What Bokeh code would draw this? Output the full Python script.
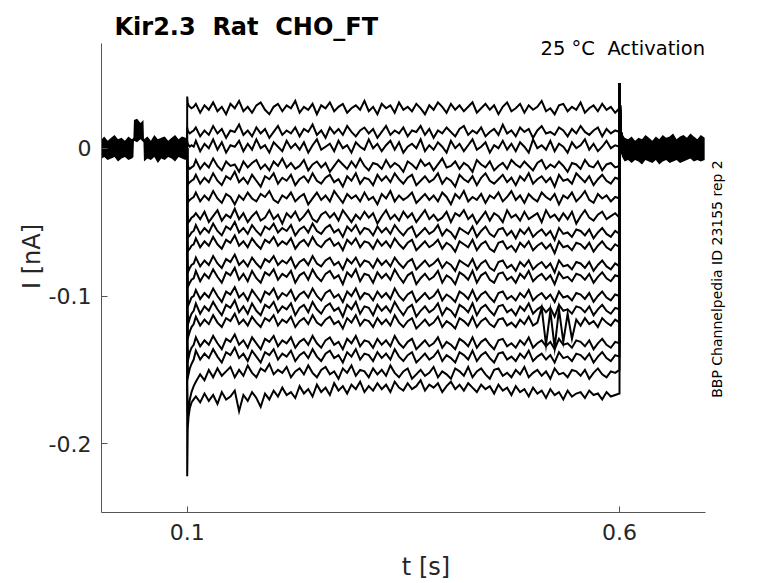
import numpy as np
from bokeh.plotting import figure
from bokeh.models import Label, FixedTicker
from bokeh.embed import file_html
from bokeh.resources import INLINE

# ---------------- data (currents in pA, time in s) ----------------
onset_t = [0.1000, 0.1006, 0.1015, 0.1030, 0.1050, 0.1075]
main_start, main_end = 0.110, 0.600
spike_t = [0.6002, 0.6010, 0.6025, 0.6050]
spike_pA = [44, 16, 6, 0]

pre_t = [0.0012, 0.004, 0.008, 0.012, 0.016, 0.020, 0.024, 0.028, 0.032, 0.036,
         0.0378, 0.0384, 0.042, 0.046, 0.0494, 0.0500, 0.054, 0.058, 0.062, 0.066,
         0.070, 0.074, 0.078, 0.082, 0.086, 0.090, 0.094, 0.098, 0.1000]
pre_hi = [6, 8, 5, 7, 9, 6, 7, 5, 8, 6, 7, 19, 20, 17, 19, 6, 8, 5, 9, 6, 7, 8, 5, 7, 9, 6, 8, 7, 6]
pre_lo = [-7, -6, -8, -7, -6, -9, -7, -6, -8, -7, -6, 5, 4, 6, 4, -9, -7, -8, -6, -10, -7, -8, -6, -7, -9, -6, -7, -8, -6]

post_t = [0.6000, 0.6010, 0.6030, 0.6060, 0.610, 0.614, 0.618, 0.622, 0.626, 0.630,
          0.634, 0.638, 0.642, 0.646, 0.650, 0.654, 0.658, 0.662, 0.666, 0.670,
          0.674, 0.678, 0.682, 0.686, 0.690, 0.694, 0.6985]
post_hi = [20, 16, 10, 7, 6, 8, 5, 7, 6, 9, 7, 5, 8, 6, 9, 7, 8, 10, 6, 8, 9, 7, 10, 8, 6, 9, 7]
post_lo = [4, -2, -6, -9, -8, -10, -8, -9, -11, -8, -9, -10, -8, -11, -9, -8, -10, -9, -8, -10, -9, -8, -7, -9, -8, -9, -8]

onsets = [
    [35, 31, 29, 28, 27, 28],
    [14, 12, 11, 10, 11, 12],
    [5, 3, 2, 1, 2, 1],
    [-8, -11, -13, -14, -13, -12],
    [-18, -22, -24, -23, -22, -21],
    [-30, -34, -36, -35, -34, -33],
    [-44, -48, -50, -49, -47, -46],
    [-53, -57, -60, -59, -57, -56],
    [-62, -67, -69, -68, -66, -65],
    [-74, -80, -83, -81, -79, -78],
    [-84, -90, -93, -91, -89, -88],
    [-95, -103, -106, -104, -101, -100],
    [-104, -114, -118, -115, -112, -110],
    [-110, -122, -127, -124, -121, -119],
    [-124, -137, -142, -138, -135, -133],
    [-132, -148, -153, -149, -146, -143],
    [-160, -180, -176, -170, -165, -161],
    [-222, -190, -182, -176, -172, -170],
]

trace01 = [30,24,29,26,31,25,28,23,30,27,32,25,28,24,29,31,26,23,28,30,25,29,27,32,24,28,26,30,23,29,27,31,25,28,30,24,27,29,26,32,25,28,23,30,27,29,24,31,26,28,25,30,27,23,29,26,31,28,24,30,26,29,25,28,31,24,27,30,26,29,23,28,31,25,27,30,24,29,26,28,32,25,27,23,29,30,25,28,26,31,24,27,29,25,30,26,28,24,27]
trace02 = [14,8,12,9,15,10,13,7,12,11,16,9,12,8,14,10,13,7,11,15,9,12,10,14,8,13,11,16,9,12,7,14,10,13,9,15,11,8,12,14,10,13,7,11,15,9,12,10,14,8,12,11,15,9,13,7,12,10,14,11,8,13,15,9,12,10,14,8,11,13,9,16,10,12,8,14,11,13,7,12,15,10,11,9,14,12,8,13,10,15,11,9,12,14,8,13,10,12,11]
trace03 = [5,-2,3,0,6,-1,4,-3,2,1,5,-2,3,-1,6,0,2,-3,4,1,-2,5,0,3,-1,4,-3,2,6,-1,1,3,-2,5,0,2,-3,4,1,-1,6,0,3,-2,2,5,-1,4,-3,1,3,0,6,-2,2,-1,4,1,-3,5,0,3,-2,2,6,-1,1,4,-3,2,0,5,-1,3,-2,4,1,-3,6,0,2,-1,5,-2,3,1,-3,4,0,2,6,-1,3,-2,1,5,0,2,1]
trace04 = [-8,-14,-10,-13,-7,-12,-15,-9,-12,-11,-16,-9,-13,-10,-8,-14,-11,-15,-9,-12,-7,-13,-10,-14,-12,-8,-15,-11,-9,-13,-10,-16,-12,-8,-11,-14,-9,-13,-7,-12,-15,-10,-11,-14,-8,-13,-10,-12,-16,-9,-11,-14,-8,-12,-10,-15,-11,-7,-13,-12,-9,-14,-10,-12,-16,-8,-11,-13,-9,-15,-12,-10,-14,-8,-11,-13,-9,-12,-15,-10,-8,-14,-11,-13,-9,-12,-16,-10,-11,-14,-8,-12,-13,-9,-15,-11,-10,-13,-12]
trace05 = [-18,-24,-20,-23,-17,-22,-25,-19,-21,-16,-23,-20,-24,-18,-22,-26,-19,-21,-17,-24,-20,-22,-18,-25,-21,-19,-23,-17,-22,-24,-20,-18,-23,-21,-26,-19,-22,-17,-24,-20,-21,-25,-18,-22,-19,-23,-17,-21,-24,-20,-18,-25,-22,-19,-23,-21,-17,-24,-20,-22,-26,-18,-21,-23,-19,-25,-20,-17,-22,-24,-21,-18,-23,-20,-25,-19,-22,-17,-24,-21,-19,-23,-20,-26,-18,-22,-21,-24,-17,-20,-23,-19,-25,-21,-18,-22,-24,-20,-21]
trace06 = [-30,-36,-32,-35,-29,-34,-37,-31,-33,-38,-32,-35,-30,-34,-36,-31,-33,-29,-35,-37,-32,-34,-30,-36,-33,-31,-38,-34,-30,-35,-32,-36,-29,-33,-37,-31,-34,-32,-36,-30,-35,-33,-38,-31,-34,-29,-36,-32,-35,-33,-30,-37,-34,-31,-35,-32,-36,-30,-33,-38,-31,-34,-29,-36,-33,-35,-31,-37,-32,-34,-30,-36,-33,-29,-35,-32,-37,-31,-34,-36,-30,-33,-35,-31,-38,-32,-34,-30,-36,-33,-29,-35,-37,-31,-34,-32,-36,-33,-34]
trace07 = [-44,-48,-43,-50,-46,-42,-49,-45,-47,-41,-48,-44,-50,-46,-43,-49,-47,-42,-48,-45,-51,-44,-47,-43,-49,-46,-42,-48,-50,-45,-43,-47,-44,-49,-42,-46,-50,-45,-48,-43,-47,-44,-51,-46,-42,-48,-45,-49,-43,-47,-44,-50,-46,-42,-48,-45,-49,-47,-43,-50,-44,-46,-42,-48,-45,-51,-47,-43,-49,-44,-46,-50,-42,-47,-45,-49,-43,-48,-46,-44,-50,-42,-47,-45,-49,-44,-48,-43,-51,-46,-42,-47,-49,-45,-43,-48,-46,-44,-47]
trace08 = [-52,-58,-54,-57,-51,-56,-59,-53,-55,-50,-57,-54,-58,-52,-56,-59,-53,-55,-51,-57,-54,-56,-52,-59,-55,-53,-57,-51,-56,-58,-54,-52,-57,-55,-60,-53,-56,-52,-58,-54,-55,-59,-53,-57,-54,-58,-52,-56,-59,-55,-53,-60,-57,-54,-58,-56,-52,-59,-55,-57,-61,-54,-56,-58,-53,-60,-56,-53,-58,-60,-55,-54,-59,-56,-61,-55,-58,-54,-60,-57,-55,-59,-56,-62,-54,-58,-57,-60,-55,-56,-59,-55,-61,-57,-54,-58,-60,-56,-58]
trace09 = [-61,-67,-63,-66,-60,-65,-68,-62,-64,-59,-66,-63,-67,-61,-65,-68,-62,-64,-60,-66,-63,-65,-61,-68,-64,-62,-66,-60,-65,-67,-63,-61,-66,-64,-69,-62,-65,-61,-67,-63,-64,-68,-62,-66,-63,-67,-61,-65,-68,-64,-62,-69,-66,-63,-67,-65,-62,-68,-64,-66,-70,-63,-65,-67,-62,-69,-65,-63,-68,-70,-64,-63,-68,-66,-70,-64,-67,-63,-69,-66,-64,-68,-65,-71,-63,-67,-66,-69,-64,-65,-68,-64,-70,-66,-63,-67,-69,-65,-67]
trace10 = [-74,-80,-76,-79,-73,-78,-81,-75,-77,-72,-79,-76,-80,-74,-78,-81,-75,-77,-73,-79,-76,-78,-74,-81,-77,-75,-79,-73,-78,-80,-76,-74,-79,-77,-82,-75,-78,-74,-80,-76,-77,-81,-75,-79,-76,-80,-74,-78,-81,-77,-75,-82,-79,-76,-80,-78,-75,-81,-77,-79,-83,-76,-78,-80,-75,-82,-78,-76,-81,-83,-77,-76,-81,-79,-83,-77,-80,-76,-82,-79,-77,-81,-78,-84,-76,-80,-79,-82,-77,-78,-81,-77,-83,-79,-76,-80,-82,-78,-80]
trace11 = [-83,-90,-85,-88,-82,-87,-91,-84,-86,-81,-89,-85,-90,-83,-88,-91,-84,-86,-82,-89,-85,-87,-83,-91,-86,-84,-89,-82,-87,-90,-85,-83,-88,-86,-92,-84,-87,-82,-90,-85,-86,-91,-84,-88,-85,-89,-82,-87,-91,-86,-84,-92,-88,-85,-89,-87,-83,-91,-86,-88,-92,-84,-86,-89,-83,-91,-86,-84,-89,-91,-85,-84,-89,-87,-91,-85,-88,-83,-90,-87,-85,-89,-86,-92,-84,-88,-87,-90,-85,-86,-89,-85,-91,-87,-84,-88,-90,-86,-87]
trace12 = [-96,-102,-98,-101,-95,-100,-104,-97,-99,-94,-101,-98,-103,-96,-100,-104,-97,-99,-95,-102,-98,-100,-96,-103,-99,-97,-101,-95,-100,-103,-98,-96,-101,-99,-104,-97,-100,-95,-102,-98,-99,-103,-97,-101,-98,-102,-95,-100,-103,-99,-97,-104,-101,-98,-102,-100,-96,-103,-99,-101,-104,-97,-99,-102,-96,-103,-99,-97,-101,-104,-98,-97,-102,-100,-103,-98,-101,-96,-103,-100,-98,-102,-99,-104,-97,-101,-100,-103,-98,-99,-102,-98,-104,-100,-97,-101,-103,-99,-100]
trace13 = [-105,-112,-107,-110,-104,-109,-113,-106,-108,-103,-111,-107,-112,-105,-110,-113,-106,-108,-104,-111,-107,-109,-105,-113,-108,-106,-111,-104,-109,-112,-107,-105,-110,-108,-114,-106,-109,-104,-112,-107,-108,-113,-106,-110,-107,-111,-104,-109,-113,-108,-106,-114,-110,-107,-111,-109,-105,-113,-108,-110,-114,-106,-108,-111,-105,-113,-108,-106,-110,-113,-107,-106,-111,-109,-113,-107,-110,-105,-112,-109,-107,-111,-108,-114,-106,-110,-109,-112,-107,-108,-111,-107,-113,-109,-106,-110,-112,-108,-109]
trace14 = [-114,-120,-116,-119,-113,-118,-121,-115,-117,-112,-119,-116,-120,-114,-118,-121,-115,-117,-113,-120,-116,-118,-114,-121,-117,-115,-119,-113,-118,-120,-116,-114,-119,-117,-122,-115,-118,-113,-120,-116,-117,-121,-115,-119,-116,-120,-113,-118,-121,-117,-115,-122,-119,-116,-120,-118,-114,-121,-117,-119,-122,-115,-117,-120,-114,-121,-117,-115,-119,-121,-116,-115,-120,-118,-121,-116,-119,-114,-120,-118,-108,-133,-110,-135,-109,-131,-112,-129,-116,-120,-115,-119,-117,-121,-115,-118,-120,-116,-118]
trace15 = [-128,-134,-130,-133,-127,-132,-136,-129,-131,-126,-133,-130,-135,-128,-132,-136,-129,-131,-127,-134,-130,-132,-128,-135,-131,-129,-133,-127,-132,-135,-130,-128,-133,-131,-136,-129,-132,-127,-134,-130,-131,-135,-129,-133,-130,-134,-127,-132,-135,-131,-129,-136,-133,-130,-134,-132,-128,-135,-131,-133,-136,-129,-131,-134,-128,-135,-131,-129,-133,-136,-130,-129,-134,-132,-135,-130,-133,-128,-135,-132,-130,-134,-131,-136,-129,-133,-132,-135,-130,-131,-134,-130,-136,-132,-129,-133,-135,-131,-132]
trace16 = [-137,-143,-139,-142,-136,-141,-145,-138,-140,-135,-142,-139,-144,-137,-141,-145,-138,-140,-136,-143,-139,-141,-137,-144,-140,-138,-142,-136,-141,-144,-139,-137,-142,-140,-145,-138,-141,-136,-143,-139,-140,-144,-138,-142,-139,-143,-136,-141,-144,-140,-138,-145,-142,-139,-143,-141,-137,-144,-140,-142,-145,-138,-140,-143,-137,-144,-140,-138,-142,-145,-139,-138,-143,-141,-144,-139,-142,-137,-144,-141,-139,-143,-140,-145,-138,-142,-141,-144,-139,-140,-143,-139,-145,-141,-138,-142,-144,-140,-141]
trace17 = [-158,-153,-157,-150,-155,-149,-154,-151,-148,-155,-150,-154,-147,-152,-155,-149,-151,-146,-153,-150,-152,-148,-155,-151,-149,-153,-147,-152,-155,-150,-148,-153,-151,-156,-149,-152,-147,-154,-150,-151,-155,-149,-153,-150,-154,-147,-152,-155,-151,-149,-156,-153,-150,-154,-152,-148,-155,-151,-153,-156,-149,-151,-154,-148,-155,-151,-149,-153,-156,-150,-149,-154,-152,-155,-150,-153,-148,-155,-152,-150,-154,-151,-156,-149,-153,-152,-155,-150,-151,-154,-150,-156,-152,-149,-153,-155,-151,-152,-150]
trace18 = [-168,-172,-166,-171,-167,-173,-165,-170,-168,-164,-178,-167,-171,-165,-169,-175,-166,-170,-164,-168,-162,-167,-165,-169,-161,-166,-163,-168,-160,-165,-162,-167,-159,-164,-161,-166,-160,-163,-158,-165,-161,-164,-159,-163,-160,-165,-158,-162,-164,-159,-163,-161,-157,-164,-160,-162,-159,-165,-161,-158,-163,-160,-164,-159,-162,-165,-160,-163,-161,-166,-160,-164,-162,-167,-161,-165,-163,-168,-162,-166,-164,-169,-163,-167,-165,-170,-164,-168,-166,-165,-169,-164,-167,-166,-170,-165,-168,-167,-166]

traces = [trace01, trace02, trace03, trace04, trace05, trace06, trace07, trace08, trace09,
          trace10, trace11, trace12, trace13, trace14, trace15, trace16, trace17, trace18]

x_ticks = [0.1, 0.6]
y_ticks = [-0.2, -0.1, 0]
y_tick_labels = {-0.2: "-0.2", -0.1: "-0.1", 0: "0"}

# ---------------- layout helpers (reference pixel -> data) ----------------
X0, SX = 186.7, 864.6     # px of t=0.1, px per second
Y0, SY = 147.7, 1478.0    # px of I=0, px per nA
def px_x(px):
    return 0.1 + (px - X0) / SX
def px_y(py):
    return -(py - Y0) / SY

W, H = 750, 583
p = figure(width=W, height=H, title=None,
           x_range=(px_x(101), px_x(W)), y_range=(px_y(512), px_y(0)),
           output_backend="svg", toolbar_location=None,
           min_border_left=101, min_border_right=0, min_border_top=0, min_border_bottom=H - 512)
p.outline_line_color = None
p.grid.visible = False
p.background_fill_color = "white"

# baseline noise bands (many overlapping holding-current traces)
p.varea(x=pre_t, y1=np.array(pre_lo) / 1000, y2=np.array(pre_hi) / 1000, fill_color="black")
p.varea(x=post_t, y1=np.array(post_lo) / 1000, y2=np.array(post_hi) / 1000, fill_color="black")

for on, vals in zip(onsets, traces):
    t_main = np.linspace(main_start, main_end, len(vals))
    xs = [0.0999] + onset_t + list(t_main) + spike_t
    ys = np.array([0] + on + vals + spike_pA) / 1000.0
    p.line(xs, ys, line_color="black", line_width=2.0, line_join="miter")

for ax in (p.xaxis[0], p.yaxis[0]):
    ax.axis_line_color = "#555555"
    ax.major_tick_line_color = "#555555"
    ax.major_tick_in = 6
    ax.major_tick_out = 0
    ax.minor_tick_line_color = None
    ax.major_label_text_font = "DejaVu Sans"
    ax.major_label_text_font_size = "22px"
    ax.major_label_text_color = "#262626"
    ax.axis_label_text_font = "DejaVu Sans"
    ax.axis_label_text_font_size = "24px"
    ax.axis_label_text_font_style = "normal"
    ax.axis_label_text_color = "#262626"

p.xaxis.bounds = (px_x(101), px_x(704.5))
p.yaxis.bounds = (px_y(512), px_y(43.3))
p.xaxis.ticker = FixedTicker(ticks=x_ticks)
p.yaxis.ticker = FixedTicker(ticks=y_ticks)
p.yaxis.major_label_overrides = y_tick_labels
p.xaxis.axis_label = "t [s]"
p.yaxis.axis_label = "I [nA]"
p.xaxis.major_label_standoff = 11
p.yaxis.major_label_standoff = 10
p.xaxis.axis_label_standoff = 10
p.yaxis.axis_label_standoff = 0

NB = "\u00a0"
p.add_layout(Label(x=px_x(114), y=px_y(26.7), text="Kir2.3" + NB + " Rat" + NB + " CHO_FT",
                   text_font="DejaVu Sans", text_font_style="bold", text_font_size="24px",
                   text_color="black", text_align="left", text_baseline="alphabetic"))
p.add_layout(Label(x=px_x(704.5), y=px_y(48), text="25 °C" + NB + " Activation",
                   text_font="DejaVu Sans", text_font_size="19.5px",
                   text_color="black", text_align="right", text_baseline="alphabetic"))
p.add_layout(Label(x=px_x(716.2), y=px_y(278.5), text="BBP Channelpedia ID 23155 rep 2",
                   text_font="DejaVu Sans", text_font_size="14px", angle=np.pi / 2,
                   text_color="black", text_align="center", text_baseline="middle"))

open("out.html", "w").write(file_html(p, INLINE))
